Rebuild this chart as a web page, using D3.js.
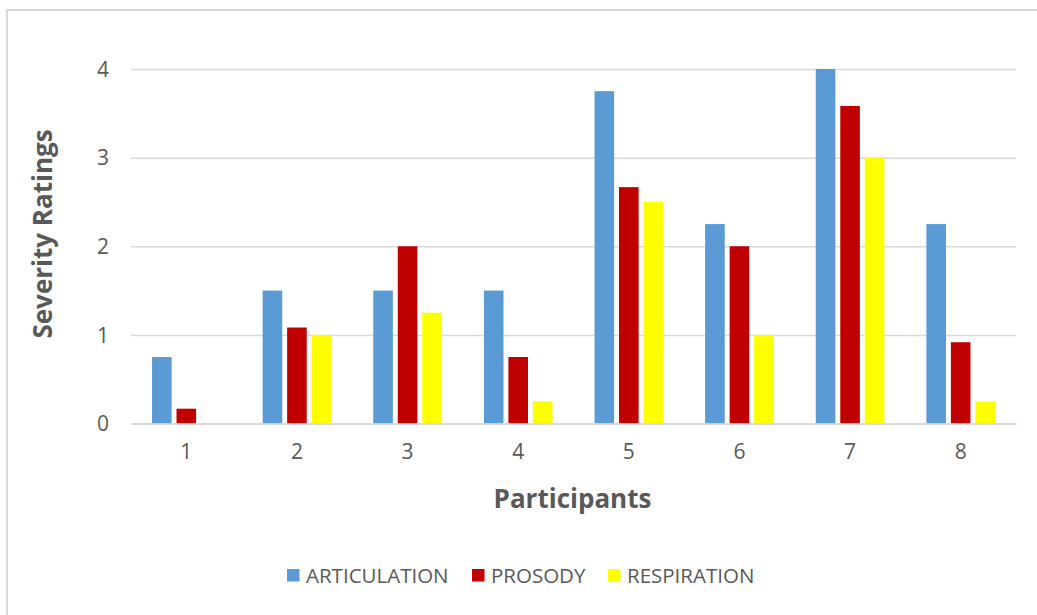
<!DOCTYPE html>
<html>
<head>
<meta charset="utf-8">
<script src="https://cdn.jsdelivr.net/npm/d3@7/dist/d3.min.js"></script>
<style>
  html, body { margin: 0; padding: 0; background: #fff; }
  svg { display: block; }
  text { font-family: "Open Sans", sans-serif; fill: #595959; }
</style>
</head>
<body>
<svg id="chart" width="1037" height="615"></svg>
<script>
// Severity ratings per participant
const participants = ["1", "2", "3", "4", "5", "6", "7", "8"];
const seriesNames = ["ARTICULATION", "PROSODY", "RESPIRATION"];
const articulation = [0.75, 1.5, 1.5, 1.5, 3.75, 2.25, 4, 2.25];
const prosody = [0.167, 1.083, 2, 0.75, 2.667, 2, 3.583, 0.917];
const respiration = [0, 1, 1.25, 0.25, 2.5, 1, 3, 0.25];
const yTicks = [0, 1, 2, 3, 4];
const colors = ["#5B9BD5", "#C00000", "#FFFF00"];

const seriesValues = [articulation, prosody, respiration];

const svg = d3.select("#chart");
const W = 1037, H = 615;
const plot = { left: 131, right: 1016, top: 69, bottom: 423.5 };

// Chart frame
svg.append("rect")
  .attr("x", 7).attr("y", 10)
  .attr("width", W + 20).attr("height", H + 20)
  .attr("fill", "#fff")
  .attr("stroke", "#D9D9D9")
  .attr("stroke-width", 2);

const x0 = d3.scaleBand().domain(participants).range([plot.left, plot.right]).padding(0);
const groupW = x0.bandwidth() * 0.62;
const x1 = d3.scaleBand().domain(seriesNames).range([0, groupW]).paddingInner(0.2).paddingOuter(0);
const y = d3.scaleLinear().domain([0, 4]).range([plot.bottom, plot.top]);

// Gridlines
const yAxis = d3.axisLeft(y).tickValues(yTicks).tickSize(-(plot.right - plot.left)).tickPadding(22).tickFormat(d3.format("d"));
const gy = svg.append("g").attr("transform", `translate(${plot.left},0)`).call(yAxis);
gy.select(".domain").remove();
gy.selectAll(".tick line").attr("stroke", "#D9D9D9").attr("stroke-width", 1.5);
gy.selectAll(".tick text").attr("font-size", 21).attr("fill", "#595959").attr("dy", "0.34em");

// Bars
const groups = svg.append("g").selectAll("g")
  .data(participants)
  .join("g")
  .attr("transform", d => `translate(${x0(d) + (x0.bandwidth() - groupW) / 2},0)`);

groups.selectAll("rect")
  .data((p, i) => seriesNames.map((s, k) => ({ s, k, v: seriesValues[k][i] })))
  .join("rect")
  .attr("x", d => x1(d.s))
  .attr("width", x1.bandwidth())
  .attr("y", d => y(d.v))
  .attr("height", d => y(0) - y(d.v))
  .attr("fill", d => colors[d.k]);

// X axis baseline and labels
const xAxis = d3.axisBottom(x0).tickSize(0).tickPadding(21);
const gx = svg.append("g").attr("transform", `translate(0,${plot.bottom})`).call(xAxis);
gx.select(".domain").attr("stroke", "#D9D9D9").attr("stroke-width", 1.5);
gx.selectAll(".tick text").attr("font-size", 21).attr("fill", "#595959");

// Axis titles
svg.append("text")
  .attr("x", (plot.left + plot.right) / 2 - 1)
  .attr("y", 508)
  .attr("text-anchor", "middle")
  .attr("font-size", 26)
  .attr("font-weight", "bold")
  .text("Participants");

svg.append("text")
  .attr("transform", "translate(52,234) rotate(-90)")
  .attr("text-anchor", "middle")
  .attr("font-size", 26)
  .attr("font-weight", "bold")
  .text("Severity Ratings");

// Legend
const legendX = [287, 472, 608];
const legend = svg.append("g").selectAll("g")
  .data(seriesNames)
  .join("g")
  .attr("transform", (d, i) => `translate(${legendX[i]},569)`);
legend.append("rect")
  .attr("width", 12.5).attr("height", 12.5)
  .attr("fill", (d, i) => colors[i]);
legend.append("text")
  .attr("x", 19).attr("y", 13.5)
  .attr("font-size", 20.5)
  .text(d => d);
</script>
</body>
</html>
